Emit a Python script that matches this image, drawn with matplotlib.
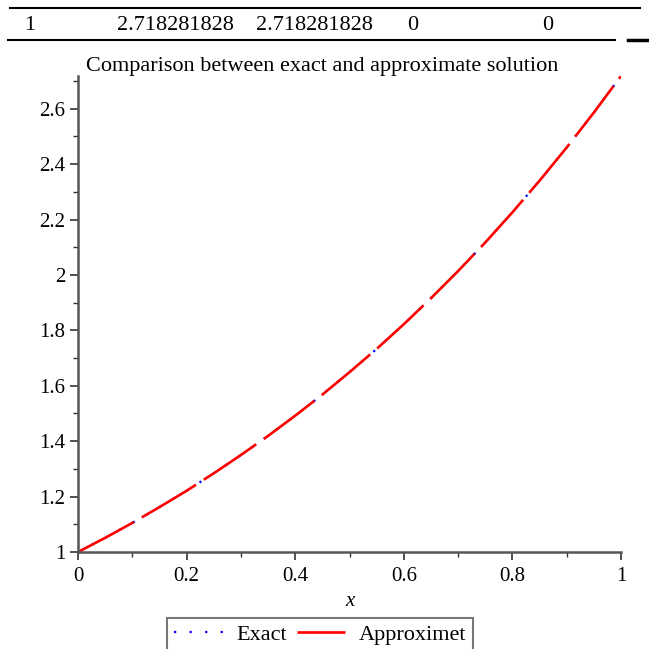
import matplotlib
matplotlib.use("Agg")
import matplotlib.pyplot as plt
from matplotlib.ticker import MultipleLocator

# values
x = [0.0, 0.05, 0.1, 0.15, 0.2, 0.25, 0.3, 0.35, 0.4, 0.45, 0.5,
     0.55, 0.6, 0.65, 0.7, 0.75, 0.8, 0.85, 0.9, 0.95, 1.0]
exact = [1.0, 1.051, 1.105, 1.162, 1.221, 1.284, 1.350, 1.419, 1.492, 1.568, 1.649,
         1.733, 1.822, 1.916, 2.014, 2.117, 2.226, 2.340, 2.460, 2.586, 2.718]
approx = [1.0, 1.051, 1.105, 1.162, 1.221, 1.284, 1.350, 1.419, 1.492, 1.568, 1.649,
          1.733, 1.822, 1.916, 2.014, 2.117, 2.226, 2.340, 2.460, 2.586, 2.718]
xticks = [0, 0.2, 0.4, 0.6, 0.8, 1]
xtick_labels = ['0', '0.2', '0.4', '0.6', '0.8', '1']
yticks = [1, 1.2, 1.4, 1.6, 1.8, 2, 2.2, 2.4, 2.6]
ytick_labels = ['1', '1.2', '1.4', '1.6', '1.8', '2', '2.2', '2.4', '2.6']
row = ["1", "2.718281828", "2.718281828", "0", "0"]
row_x = [30, 175, 314, 413, 548]

plt.rcParams['font.family'] = ['Liberation Serif', 'DejaVu Serif']

fig = plt.figure(figsize=(6.49, 6.49), dpi=100)
ax = fig.add_axes([78 / 649, 1 - 552 / 649, (621 - 78) / 649, (552 - 76) / 649])

ax.plot(x, exact, color='blue', linestyle=(0, (1, 6)), linewidth=1.6, label='Exact')
ax.plot(x, approx, color='red', linestyle=(0, (24, 3.5)), linewidth=1.9, label='Approximet')

ax.set_xlim(0, 1)
ax.set_ylim(1, 2.718)
ax.set_xticks(xticks)
ax.set_xticklabels(xtick_labels)
ax.set_yticks(yticks)
ax.set_yticklabels(ytick_labels)
ax.xaxis.set_minor_locator(MultipleLocator(0.1))
ax.yaxis.set_minor_locator(MultipleLocator(0.1))

for s in ['top', 'right']:
    ax.spines[s].set_visible(False)
for s in ['left', 'bottom']:
    ax.spines[s].set_color('#555555')
    ax.spines[s].set_linewidth(1.8)
ax.tick_params(which='major', length=6, width=1.2, color='#333333', labelsize=15)
ax.tick_params(axis='x', which='major', pad=5)
ax.tick_params(axis='y', which='major', pad=3)
ax.tick_params(which='minor', length=3.5, width=1.0, color='#333333')

ax.set_xlabel('x', fontsize=15, style='italic', labelpad=4)
ax.set_title('Comparison between exact and approximate solution', fontsize=16, pad=3,
             x=(322 - 78) / 543)

leg = ax.legend(loc='upper center', bbox_to_anchor=(320 / 649, 1 - 618 / 649), bbox_transform=fig.transFigure,
                ncol=2, frameon=True, fancybox=False, fontsize=16, handlelength=2.2,
                columnspacing=0.45, handletextpad=0.6, borderpad=0.3, borderaxespad=0)
leg.get_frame().set_edgecolor('#555555')
leg.get_frame().set_linewidth(1.5)

# table row above the chart
fig.add_artist(plt.Line2D([10 / 649, 640 / 649], [1 - 8 / 649] * 2, color='black', linewidth=1.5))
fig.add_artist(plt.Line2D([8 / 649, 615 / 649], [1 - 40 / 649] * 2, color='black', linewidth=1.5))
fig.add_artist(plt.Line2D([628 / 649, 649 / 649], [1 - 40 / 649] * 2, color='black', linewidth=2.5))
for t, px in zip(row, row_x):
    fig.text(px / 649, 1 - 26 / 649, t, ha='center', va='center', fontsize=16)

fig.savefig('out.png', dpi=100)
